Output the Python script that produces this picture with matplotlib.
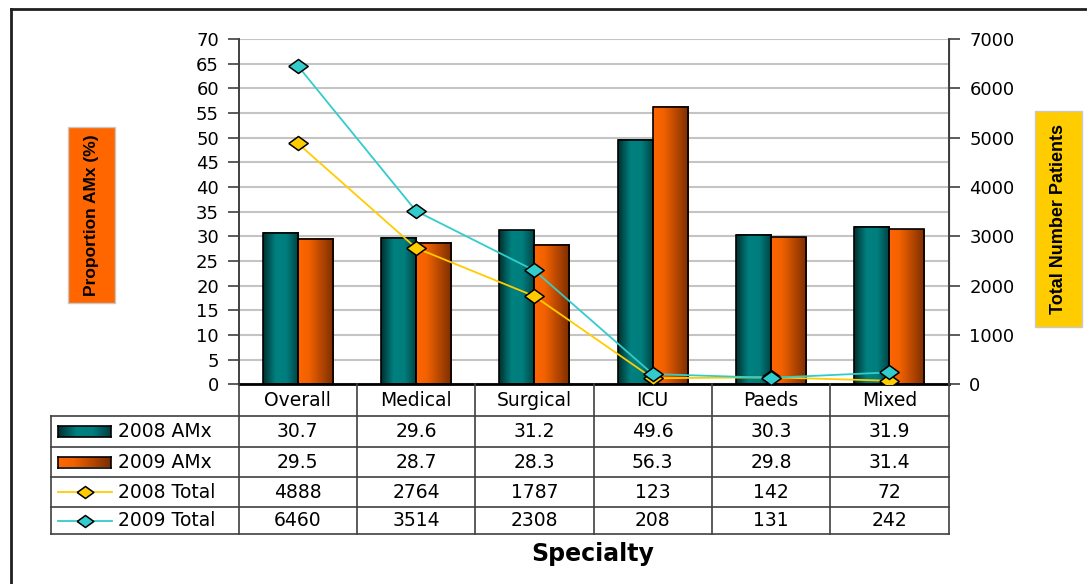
import numpy as np
import matplotlib
matplotlib.use("Agg")
import matplotlib.pyplot as plt
from matplotlib.colors import LinearSegmentedColormap
from matplotlib.lines import Line2D
from matplotlib.patches import Rectangle

# ---- data -------------------------------------------------------------
specialties = ["Overall", "Medical", "Surgical", "ICU", "Paeds", "Mixed"]
amx_2008 = [30.7, 29.6, 31.2, 49.6, 30.3, 31.9]
amx_2009 = [29.5, 28.7, 28.3, 56.3, 29.8, 31.4]
total_2008 = [4888, 2764, 1787, 123, 142, 72]
total_2009 = [6460, 3514, 2308, 208, 131, 242]
series_labels = ["2008 AMx", "2009 AMx", "2008 Total", "2009 Total"]

# ---- styling ----------------------------------------------------------
W, H = 1087, 584
FONT = "DejaVu Sans"
teal_cmap = LinearSegmentedColormap.from_list(
    "teal", [(0, "#012e2e"), (0.35, "#008080"), (0.65, "#007e7e"), (1, "#003f3f")])
orange_cmap = LinearSegmentedColormap.from_list(
    "orange", [(0, "#ff6600"), (0.3, "#f26100"), (1, "#7a2d00")])
YELLOW = "#ffcc00"
CYAN = "#33cccc"
TABLE_LINE = "#404040"
GRID = "#c4c4c4"

# wide diamond marker
diamond = [(-1, 0), (0, 0.72), (1, 0), (0, -0.72), (-1, 0)]


def fx(px):
    return px / W


def fy(py):
    return 1 - py / H


fig = plt.figure(figsize=(W / 100, H / 100), dpi=100)
ax = fig.add_axes([fx(238.5), fy(384.3), fx(948.5) - fx(238.5), fy(39) - fy(384.3)])
ax2 = ax.twinx()

x = np.arange(len(specialties))
bw = 0.296
bars08 = ax.bar(x - bw / 2, amx_2008, bw, facecolor="none", edgecolor="black",
                linewidth=1.2, zorder=3)
bars09 = ax.bar(x + bw / 2, amx_2009, bw, facecolor="none", edgecolor="black",
                linewidth=1.2, zorder=3)

grad = np.linspace(0, 1, 256).reshape(1, -1)
for bars, cmap in ((bars08, teal_cmap), (bars09, orange_cmap)):
    for b in bars:
        x0, y0 = b.get_xy()
        ax.imshow(grad, cmap=cmap, extent=[x0, x0 + b.get_width(), y0, y0 + b.get_height()],
                  aspect="auto", interpolation="bilinear", zorder=2.5)

ax.set_xlim(-0.5, len(specialties) - 0.5)
ax.set_ylim(0, 70)
ax.set_yticks(np.arange(0, 71, 5))
ax.set_xticks([])
ax.yaxis.grid(True, color=GRID, linewidth=1.5)
ax.set_axisbelow(True)
for s in ("top",):
    ax.spines[s].set_visible(False)
    ax2.spines[s].set_visible(False)
ax.spines["bottom"].set_color("black")
ax.spines["bottom"].set_linewidth(2)
ax.spines["left"].set_color(TABLE_LINE)
ax.spines["left"].set_linewidth(1.4)
ax2.spines["right"].set_color(TABLE_LINE)
ax2.spines["right"].set_linewidth(1.4)
ax2.spines["bottom"].set_visible(False)
ax2.spines["left"].set_visible(False)
ax.tick_params(axis="y", length=8, width=1.2, color=TABLE_LINE, pad=6,
               labelsize=13, labelfontfamily=FONT)

ax2.plot(x, total_2008, color=YELLOW, linewidth=1.3, marker=diamond, markersize=14,
         markerfacecolor=YELLOW, markeredgecolor="black", markeredgewidth=1.1, zorder=4)
ax2.plot(x, total_2009, color=CYAN, linewidth=1.3, marker=diamond, markersize=14,
         markerfacecolor=CYAN, markeredgecolor="black", markeredgewidth=1.1, zorder=5)
ax2.set_ylim(0, 7000)
ax2.set_yticks(np.arange(0, 7001, 1000))
ax2.tick_params(axis="y", length=8, width=1.2, color=TABLE_LINE, pad=7,
                labelsize=13, labelfontfamily=FONT)

# ---- data table under the plot -----------------------------------------
bl = matplotlib.transforms.blended_transform_factory(ax.transData, fig.transFigure)
left_edge = -0.5 - (238.5 - 51) / ((948.5 - 238.5) / len(specialties))
row_lines = [416, 447, 477, 507, 534]
header_mid = 400
row_mids = [(row_lines[i] + row_lines[i + 1]) / 2 for i in range(4)]

for py in row_lines:
    fig.add_artist(Line2D([left_edge, len(specialties) - 0.5], [fy(py), fy(py)],
                          transform=bl, color=TABLE_LINE, linewidth=1.2))
for xb in np.arange(-0.5, len(specialties), 1.0):
    fig.add_artist(Line2D([xb, xb], [fy(384), fy(534)], transform=bl,
                          color=TABLE_LINE, linewidth=1.2))
fig.add_artist(Line2D([left_edge, left_edge], [fy(416), fy(534)], transform=bl,
                      color=TABLE_LINE, linewidth=1.2))

for i, name in enumerate(specialties):
    fig.text(i, fy(header_mid), name, transform=bl, ha="center", va="center",
             fontsize=13.5, family=FONT)
for r, vals in enumerate((amx_2008, amx_2009, total_2008, total_2009)):
    for i, v in enumerate(vals):
        fig.text(i, fy(row_mids[r]), f"{v}", transform=bl, ha="center", va="center",
                 fontsize=13.5, family=FONT)
    fig.text(fx(118), fy(row_mids[r]), series_labels[r], ha="left", va="center",
             fontsize=13.5, family=FONT)

# legend keys inside the table
for r, cmap in ((0, teal_cmap), (1, orange_cmap)):
    ym = row_mids[r]
    kax = fig.add_axes([fx(58), fy(ym + 5.5), fx(111) - fx(58), fy(ym - 5.5) - fy(ym + 5.5)])
    kax.imshow(grad, cmap=cmap, aspect="auto", interpolation="bilinear")
    kax.set_xticks([])
    kax.set_yticks([])
    for sp in kax.spines.values():
        sp.set_linewidth(1.2)
        sp.set_color("black")
for r, col in ((2, YELLOW), (3, CYAN)):
    ym = row_mids[r]
    fig.add_artist(Line2D([fx(58), fx(112)], [fy(ym), fy(ym)], color=col, linewidth=1.3))
    fig.add_artist(Line2D([fx(85)], [fy(ym)], marker=diamond, markersize=12,
                          markerfacecolor=col, markeredgecolor="black",
                          markeredgewidth=1.1, linestyle="none"))

# ---- axis titles -------------------------------------------------------
fig.add_artist(Rectangle((fx(68), fy(303)), fx(115) - fx(68), fy(127) - fy(303),
                         facecolor="#ff6600", edgecolor="#c8c8c8", linewidth=1))
fig.text(fx(91.5), fy(215), "Proportion AMx (%)", rotation=90, ha="center", va="center",
         fontsize=12.5, fontweight="bold", family="Liberation Sans")
fig.add_artist(Rectangle((fx(1035), fy(327)), fx(1082) - fx(1035), fy(111) - fy(327),
                         facecolor=YELLOW, edgecolor="#c8c8c8", linewidth=1))
fig.text(fx(1058.5), fy(219), "Total Number Patients", rotation=90, ha="center",
         va="center", fontsize=13, fontweight="bold", family="Liberation Sans")
fig.text(fx(593), fy(554), "Specialty", ha="center", va="center", fontsize=17,
         fontweight="bold", family=FONT)

# outer frame (left and top edges)
fig.add_artist(Line2D([fx(11), fx(11)], [0, fy(9)], color="#202020", linewidth=2))
fig.add_artist(Line2D([fx(11), 1], [fy(9), fy(9)], color="#202020", linewidth=2))

fig.savefig("out.png", dpi=100)
